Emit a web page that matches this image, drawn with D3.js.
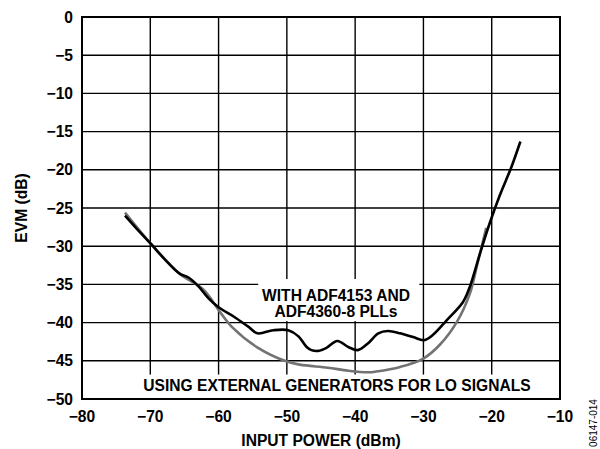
<!DOCTYPE html>
<html><head><meta charset="utf-8">
<script src="https://cdn.jsdelivr.net/npm/d3@7"></script>
<style>body{margin:0;background:#fff}svg{display:block}text{font-family:"Liberation Sans",Arial,sans-serif}</style>
</head><body>
<svg id="c" width="600" height="449"></svg>
<script>
const xTicks = [-80,-70,-60,-50,-40,-30,-20,-10];
const yTicks = [0,-5,-10,-15,-20,-25,-30,-35,-40,-45,-50];
const pllX = [-73.7,-71.8,-69.8,-67.8,-65.7,-64.4,-63.0,-61.5,-60.0,-57.8,-55.7,-54.3,-52.0,-49.8,-48.3,-47.1,-46.4,-45.4,-44.2,-42.6,-41.0,-39.6,-38.1,-36.6,-35.2,-33.4,-31.5,-29.9,-28.6,-26.6,-24.2,-23.2,-21.7,-20.3,-18.8,-17.1,-15.8];
const pllY = [-26.0,-27.9,-29.8,-31.8,-33.6,-34.1,-35.2,-36.8,-38.0,-39.2,-40.5,-41.4,-41.0,-41.0,-41.8,-43.2,-43.6,-43.7,-43.3,-42.4,-43.2,-43.6,-42.7,-41.4,-41.1,-41.4,-41.9,-42.3,-41.6,-39.7,-37.3,-35.3,-30.9,-27.0,-23.3,-19.6,-16.3];
const extX = [-73.7,-69.8,-65.7,-62.2,-59.8,-57.9,-54.4,-50.0,-48.1,-44.0,-41.0,-38.0,-36.9,-33.4,-30.0,-27.6,-25.1,-23.2,-22.2,-20.8];
const extY = [-25.6,-29.8,-33.6,-35.7,-38.6,-40.7,-43.2,-45.1,-45.5,-45.9,-46.3,-46.5,-46.4,-45.8,-44.7,-42.9,-39.9,-36.2,-32.7,-27.6];

const svg = d3.select("#c");
const L=82, R=560, T=17, B=399;
const FS = 15.6;
const x = d3.scaleLinear().domain([-80,-10]).range([L,R]);
const y = d3.scaleLinear().domain([-50,0]).range([B,T]);

// grid
const g = svg.append("g");
g.selectAll(".vx").data(xTicks.slice(1,-1)).enter().append("line")
 .attr("x1",d=>x(d)).attr("x2",d=>x(d)).attr("y1",T).attr("y2",B)
 .attr("stroke","#000").attr("stroke-width",1.4);
g.selectAll(".hy").data(yTicks.slice(1,-1)).enter().append("line")
 .attr("y1",d=>y(d)).attr("y2",d=>y(d)).attr("x1",L).attr("x2",R)
 .attr("stroke","#000").attr("stroke-width",1.4);

// annotation boxes (white background masking grid)
svg.append("rect").attr("x",x(-54.2)).attr("y",y(-34.3)).attr("width",x(-30.6)-x(-54.2)).attr("height",y(-39.8)-y(-34.3)).attr("fill","#fff");
svg.append("rect").attr("x",x(-73)).attr("y",y(-46.8)).attr("width",x(-12.5)-x(-73)).attr("height",B-y(-46.8)).attr("fill","#fff");

// lines
const line = d3.line().x(d=>x(d[0])).y(d=>y(d[1])).curve(d3.curveCatmullRom.alpha(0.5));
svg.append("path").datum(extX.map((v,i)=>[v,extY[i]])).attr("d",line)
 .attr("fill","none").attr("stroke","#737373").attr("stroke-width",2.6).attr("stroke-linejoin","round");
svg.append("path").datum(pllX.map((v,i)=>[v,pllY[i]])).attr("d",line)
 .attr("fill","none").attr("stroke","#000").attr("stroke-width",2.6).attr("stroke-linejoin","round");

// frame
svg.append("rect").attr("x",L).attr("y",T).attr("width",R-L).attr("height",B-T)
 .attr("fill","none").attr("stroke","#000").attr("stroke-width",2);

// axes labels
svg.append("g").selectAll("text").data(yTicks).enter().append("text")
 .attr("x",L-9).attr("y",d=>y(d)+5.6).attr("text-anchor","end")
 .attr("font-size",FS).attr("font-weight","bold")
 .text(d=>d===0?"0":"\u2212"+Math.abs(d));
svg.append("g").selectAll("text").data(xTicks).enter().append("text")
 .attr("x",d=>x(d)).attr("y",421.5).attr("text-anchor","middle")
 .attr("font-size",FS).attr("font-weight","bold")
 .text(d=>"\u2212"+Math.abs(d));

svg.append("text").attr("x",321).attr("y",445.5).attr("text-anchor","middle")
 .attr("font-size",FS).attr("font-weight","bold").text("INPUT POWER (dBm)");
svg.append("text").attr("transform","translate(27,208) rotate(-90)")
 .attr("text-anchor","middle").attr("font-size",FS).attr("font-weight","bold").text("EVM (dB)");

svg.append("text").attr("x",336).attr("y",300.5).attr("text-anchor","middle")
 .attr("font-size",FS).attr("font-weight","bold").text("WITH ADF4153 AND");
svg.append("text").attr("x",336).attr("y",316.5).attr("text-anchor","middle")
 .attr("font-size",FS).attr("font-weight","bold").text("ADF4360-8 PLLs");
svg.append("text").attr("x",337).attr("y",391).attr("text-anchor","middle")
 .attr("font-size",FS).attr("font-weight","bold").text("USING EXTERNAL GENERATORS FOR LO SIGNALS");

svg.append("text").attr("transform","translate(597,423) rotate(-90)")
 .attr("text-anchor","middle").attr("font-size",10).text("06147-014");
</script>
</body></html>
